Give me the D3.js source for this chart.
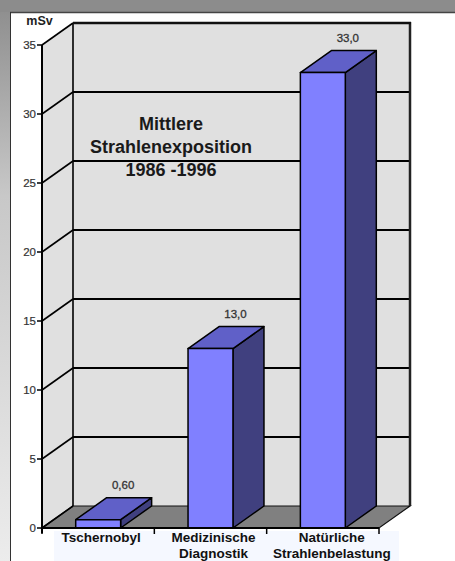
<!DOCTYPE html>
<html><head><meta charset="utf-8">
<script src="https://cdn.jsdelivr.net/npm/d3@7"></script>
<style>html,body{margin:0;padding:0;background:#fff;}svg{display:block;}</style>
</head><body>
<script>
const categories = [["Tschernobyl"], ["Medizinische", "Diagnostik"], ["Natürliche", "Strahlenbelastung"]];
const values = [0.6, 13.0, 33.0];
const valueLabels = ["0,60", "13,0", "33,0"];
const yTicks = [0, 5, 10, 15, 20, 25, 30, 35];
const titleLines = ["Mittlere", "Strahlenexposition", "1986 -1996"];
const unitLabel = "mSv";

const W = 455, H = 561;
const svg = d3.select("body").append("svg").attr("width", W).attr("height", H);
const font = "Arial, 'Liberation Sans', sans-serif";

// frame
const defs = svg.append("defs");
const g1 = defs.append("linearGradient").attr("id", "lg").attr("x1", 0).attr("y1", 0).attr("x2", 0).attr("y2", 1);
g1.append("stop").attr("offset", "0").attr("stop-color", "#8c8c8c");
g1.append("stop").attr("offset", "0.35").attr("stop-color", "#c8c8c8");
g1.append("stop").attr("offset", "1").attr("stop-color", "#ececec");
svg.append("rect").attr("x", 0).attr("y", 0).attr("width", 10).attr("height", H).attr("fill", "url(#lg)");
svg.append("rect").attr("x", 0).attr("y", 0).attr("width", W).attr("height", 12).attr("fill", "#8c8c8c");
svg.append("line").attr("x1", 10).attr("x2", W).attr("y1", 12.5).attr("y2", 12.5).attr("stroke", "#444").attr("stroke-width", 1.5);
svg.append("line").attr("x1", 10.5).attr("x2", 10.5).attr("y1", 12).attr("y2", H).attr("stroke", "#333").attr("stroke-width", 1);

// scales
const x0 = 42, x1 = 379, yBase = 528;
const y = d3.scaleLinear().domain([0, 35]).range([yBase, 45]);
const dx = 31, dy = 22;
const band = d3.scaleBand().domain(d3.range(categories.length)).range([x0, x1]).paddingInner(0.6).paddingOuter(0.3);
const cat = d3.scaleBand().domain(d3.range(categories.length)).range([x0, x1]).padding(0);

// faint label background
svg.append("rect").attr("x", 54).attr("y", 531).attr("width", 345).attr("height", 30).attr("fill", "#f5f8ff");

// walls
const yTop = y(35);
svg.append("polygon").attr("points", [[x0, yTop], [x0 + dx, yTop - dy], [x0 + dx, yBase - dy], [x0, yBase]].join(" ")).attr("fill", "#e0e0e0");
svg.append("rect").attr("x", x0 + dx).attr("y", yTop - dy).attr("width", x1 - x0).attr("height", yBase - yTop).attr("fill", "#e0e0e0");
// floor
svg.append("polygon").attr("points", [[x0, yBase], [x1, yBase], [x1 + dx, yBase - dy], [x0 + dx, yBase - dy]].join(" ")).attr("fill", "#808080").attr("stroke", "#111").attr("stroke-width", 1.2);

// gridlines
yTicks.forEach(t => {
  const yy = y(t);
  if (t > 0) {
    svg.append("line").attr("x1", x0 + dx).attr("x2", x1 + dx).attr("y1", yy - dy).attr("y2", yy - dy).attr("stroke", "#000").attr("stroke-width", 2);
  }
  svg.append("line").attr("x1", x0).attr("x2", x0 + dx).attr("y1", yy).attr("y2", yy - dy).attr("stroke", "#000").attr("stroke-width", 1.6);
});
svg.append("line").attr("x1", x0 + dx).attr("x2", x0 + dx).attr("y1", yTop - dy).attr("y2", yBase - dy).attr("stroke", "#000").attr("stroke-width", 1.6);
svg.append("line").attr("x1", x1 + dx).attr("x2", x1 + dx).attr("y1", yTop - dy - 1).attr("y2", yBase - dy).attr("stroke", "#222").attr("stroke-width", 2.5);
svg.append("line").attr("x1", x0 + dx).attr("x2", x1 + dx + 1).attr("y1", yTop - dy).attr("y2", yTop - dy).attr("stroke", "#111").attr("stroke-width", 2.5);

// title
titleLines.forEach((s, i) => {
  svg.append("text").attr("x", 171).attr("y", 130 + i * 23).attr("text-anchor", "middle")
    .attr("font-family", font).attr("font-weight", "bold").attr("font-size", 18).attr("fill", "#1a1a1a").text(s);
});

// bars
values.forEach((v, i) => {
  const bx = band(i), bw = band.bandwidth(), by = y(v);
  const g = svg.append("g").attr("stroke", "#000").attr("stroke-width", 1.5).attr("stroke-linejoin", "round");
  g.append("polygon").attr("points", [[bx + bw, by], [bx + bw + dx, by - dy], [bx + bw + dx, yBase - dy], [bx + bw, yBase]].join(" ")).attr("fill", "#40407f");
  g.append("polygon").attr("points", [[bx, by], [bx + dx, by - dy], [bx + bw + dx, by - dy], [bx + bw, by]].join(" ")).attr("fill", "#6060c8");
  g.append("rect").attr("x", bx).attr("y", by).attr("width", bw).attr("height", yBase - by).attr("fill", "#8080ff");
  svg.append("text").attr("x", bx + bw / 2 + 25).attr("y", by - 31).attr("text-anchor", "middle")
    .attr("font-family", font).attr("font-size", 11.5).attr("fill", "#333").attr("stroke", "#333").attr("stroke-width", 0.3).text(valueLabels[i]);
});

// y axis
svg.append("line").attr("x1", x0).attr("x2", x0).attr("y1", yTop).attr("y2", yBase + 5).attr("stroke", "#000").attr("stroke-width", 2);
yTicks.forEach(t => {
  svg.append("line").attr("x1", x0 - 5).attr("x2", x0).attr("y1", y(t)).attr("y2", y(t)).attr("stroke", "#000").attr("stroke-width", 1.5);
  svg.append("text").attr("x", x0 - 6).attr("y", y(t) + 4).attr("text-anchor", "end")
    .attr("font-family", font).attr("font-size", 11.5).attr("fill", "#333").attr("stroke", "#333").attr("stroke-width", 0.2).text(t);
});
svg.append("text").attr("x", 39.5).attr("y", 25).attr("text-anchor", "middle")
  .attr("font-family", font).attr("font-weight", "bold").attr("font-size", 12.5).attr("fill", "#222").text(unitLabel);

// x axis
svg.append("line").attr("x1", x0).attr("x2", x1).attr("y1", yBase).attr("y2", yBase).attr("stroke", "#000").attr("stroke-width", 2);
d3.range(categories.length + 1).forEach(i => {
  const tx = i < categories.length ? cat(i) : x1;
  svg.append("line").attr("x1", tx).attr("x2", tx).attr("y1", yBase).attr("y2", yBase + 6).attr("stroke", "#000").attr("stroke-width", 1.5);
});
categories.forEach((lines, i) => {
  let cx = cat(i) + cat.bandwidth() / 2 + 3;
  if (i === categories.length - 1) cx += 6;
  lines.forEach((s, j) => {
    svg.append("text").attr("x", cx).attr("y", 542 + j * 16).attr("text-anchor", "middle")
      .attr("font-family", font).attr("font-weight", "bold").attr("font-size", 13.5).attr("fill", "#111").text(s);
  });
});
</script>
</body></html>
